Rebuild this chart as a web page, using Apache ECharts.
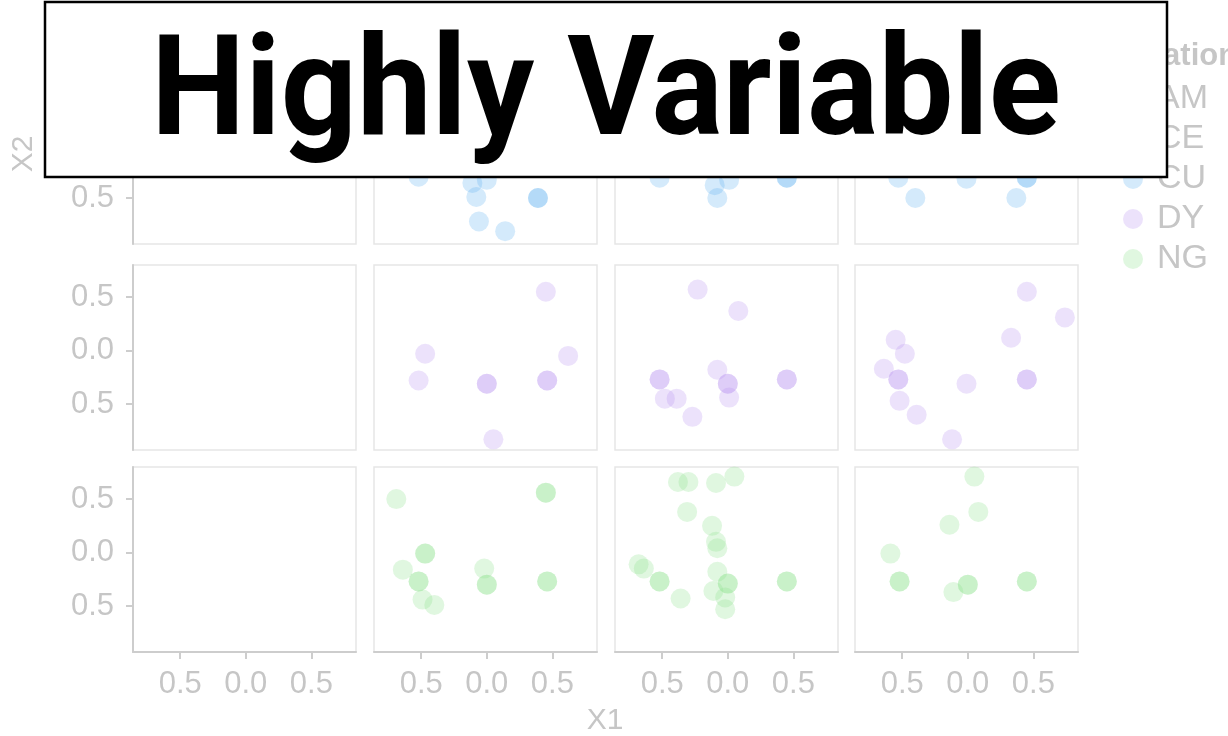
<!DOCTYPE html>
<html>
<head>
<meta charset="utf-8">
<script src="https://cdn.jsdelivr.net/npm/echarts@6/dist/echarts.min.js"></script>
<style>html,body{margin:0;padding:0;background:#fff}#chart{width:1228px;height:736px}</style>
</head>
<body>
<div id="chart"></div>
<script>
// ---- data ----
const POPULATIONS = ['AM', 'CE', 'CU', 'DY', 'NG'];
const ROW_POPS = ['CU', 'DY', 'NG'];
const TICK_VALUES = [-0.5, 0, 0.5];
const TICK_LABELS = ['0.5', '0.0', '0.5'];
const TITLE_TEXT = 'Highly Variable';
const LEGEND_TITLE = 'Population';
const X_TITLE = 'X1';
const Y_TITLE = 'X2';

// each facet: [x, y] pairs (column 1 is empty in every visible row)
const CU_C1 = [];
const CU_C2 = [[-0.52,-0.30],[-0.11,-0.36],[0.0,-0.33],[-0.08,-0.49],[0.39,-0.50],[0.39,-0.50],[-0.06,-0.72],[0.14,-0.81]];
const CU_C3 = [[-0.52,-0.31],[-0.10,-0.38],[0.01,-0.33],[-0.08,-0.50],[0.45,-0.31],[0.45,-0.31]];
const CU_C4 = [[-0.53,-0.31],[-0.40,-0.50],[-0.01,-0.32],[0.45,-0.31],[0.45,-0.31],[0.37,-0.50]];

const DY_C1 = [];
const DY_C2 = [[-0.47,-0.03],[-0.52,-0.28],[0.0,-0.31],[0.0,-0.31],[0.45,0.55],[0.62,-0.05],[0.46,-0.28],[0.46,-0.28],[0.05,-0.83]];
const DY_C3 = [[-0.23,0.57],[0.08,0.37],[-0.52,-0.27],[-0.52,-0.27],[-0.48,-0.45],[-0.39,-0.45],[-0.08,-0.18],[0.0,-0.31],[0.0,-0.31],[0.01,-0.44],[-0.27,-0.62],[0.45,-0.27],[0.45,-0.27]];
const DY_C4 = [[-0.55,0.10],[-0.48,-0.03],[-0.64,-0.17],[-0.53,-0.27],[-0.53,-0.27],[-0.52,-0.47],[-0.39,-0.60],[-0.12,-0.83],[-0.01,-0.31],[0.33,0.12],[0.45,0.55],[0.74,0.31],[0.45,-0.27],[0.45,-0.27]];

const NG_C1 = [];
const NG_C2 = [[-0.69,0.50],[-0.47,-0.01],[-0.47,-0.01],[-0.64,-0.16],[-0.52,-0.27],[-0.52,-0.27],[-0.49,-0.44],[-0.40,-0.49],[-0.02,-0.15],[0.0,-0.30],[0.0,-0.30],[0.45,0.56],[0.45,0.56],[0.46,-0.27],[0.46,-0.27]];
const NG_C3 = [[-0.38,0.66],[-0.30,0.66],[-0.09,0.65],[0.05,0.71],[-0.31,0.38],[-0.12,0.25],[-0.09,0.10],[-0.08,0.04],[-0.68,-0.11],[-0.64,-0.15],[-0.52,-0.27],[-0.52,-0.27],[-0.08,-0.18],[0.0,-0.29],[0.0,-0.29],[-0.11,-0.36],[-0.02,-0.42],[-0.36,-0.43],[-0.02,-0.53],[0.45,-0.27],[0.45,-0.27]];
const NG_C4 = [[0.05,0.71],[0.08,0.38],[-0.14,0.26],[-0.59,-0.01],[-0.52,-0.27],[-0.52,-0.27],[0.0,-0.30],[0.0,-0.30],[-0.11,-0.37],[0.45,-0.27],[0.45,-0.27]];

const FACETS = {
  CU: [CU_C1, CU_C2, CU_C3, CU_C4],
  DY: [DY_C1, DY_C2, DY_C3, DY_C4],
  NG: [NG_C1, NG_C2, NG_C3, NG_C4]
};

// ---- style / layout ----
const COLORS = { AM: '#f08a8a', CE: '#e6d25a', CU: '#5fb0f0', DY: '#b894f0', NG: '#8ee08e' };
const POINT_OPACITY = 0.27;
const COL_LEFT = [133, 374, 615, 855];
const ROW_TOP = [59, 265, 467];
const PANEL_W = 223, PANEL_H = 185;
const X_MIN = -0.86, X_MAX = 0.84, Y_MIN = -0.93, Y_MAX = 0.80;
const TXT = '#c6c6c6';
const AXIS_LINE = '#cdcdcd';
const FONT = 'Liberation Sans, Arial, sans-serif';

const grids = [], xAxes = [], yAxes = [], series = [];
ROW_POPS.forEach((pop, r) => {
  for (let c = 0; c < 4; c++) {
    const idx = grids.length;
    grids.push({ left: COL_LEFT[c], top: ROW_TOP[r], width: PANEL_W, height: PANEL_H,
      show: true, borderColor: '#e6e6e6', borderWidth: 1.5, backgroundColor: '#fff' });
    const bottomRow = r === ROW_POPS.length - 1;
    const firstCol = c === 0;
    const fmt = v => { const i = TICK_VALUES.findIndex(t => Math.abs(t - v) < 1e-9); return i >= 0 ? TICK_LABELS[i] : ''; };
    xAxes.push({ type: 'value', gridIndex: idx, min: X_MIN, max: X_MAX,
      splitLine: { show: false },
      axisLine: { show: bottomRow, onZero: false, lineStyle: { color: AXIS_LINE, width: 2 } },
      axisTick: { show: bottomRow, customValues: TICK_VALUES, length: 7, lineStyle: { color: AXIS_LINE, width: 2 } },
      axisLabel: { show: bottomRow, customValues: TICK_VALUES, formatter: fmt, margin: 17,
        color: TXT, fontSize: 31, fontFamily: FONT }
    });
    yAxes.push({ type: 'value', gridIndex: idx, min: Y_MIN, max: Y_MAX,
      splitLine: { show: false },
      axisLine: { show: firstCol, onZero: false, lineStyle: { color: AXIS_LINE, width: 2 } },
      axisTick: { show: firstCol, customValues: TICK_VALUES, length: 7, lineStyle: { color: AXIS_LINE, width: 2 } },
      axisLabel: { show: firstCol, customValues: TICK_VALUES, formatter: fmt, margin: 19,
        color: TXT, fontSize: 31, fontFamily: FONT }
    });
    series.push({ type: 'scatter', name: pop, xAxisIndex: idx, yAxisIndex: idx,
      data: FACETS[pop][c], symbolSize: 20,
      itemStyle: { color: COLORS[pop], opacity: POINT_OPACITY } });
  }
});
// legend-only entries for populations whose rows are outside the view
['AM', 'CE'].forEach(pop => series.push({ type: 'scatter', name: pop, xAxisIndex: 0, yAxisIndex: 0,
  data: [], symbolSize: 20, itemStyle: { color: COLORS[pop], opacity: POINT_OPACITY } }));

const chart = echarts.init(document.getElementById('chart'), null, { renderer: 'canvas' });
chart.setOption({
  animation: false,
  backgroundColor: '#fff',
  grid: grids, xAxis: xAxes, yAxis: yAxes, series: series,
  legend: {
    data: POPULATIONS, orient: 'vertical', left: 1118, top: 77,
    itemWidth: 20, itemHeight: 20, itemGap: 6, icon: 'circle',
    selectedMode: false,
    textStyle: { color: TXT, fontSize: 34, fontFamily: FONT, lineHeight: 20, padding: [0, 0, 0, 9] }
  },
  graphic: [
    { type: 'text', left: 1077, top: 41, style: { text: LEGEND_TITLE, fill: TXT, font: 'bold 31px ' + FONT } },
    { type: 'text', x: 605, y: 721, style: { text: X_TITLE, fill: TXT, font: '30px ' + FONT, align: 'center', verticalAlign: 'middle' } },
    { type: 'text', x: 24, y: 154, rotation: Math.PI / 2, style: { text: Y_TITLE, fill: TXT, font: '30px ' + FONT, align: 'center', verticalAlign: 'middle' } },
    { type: 'rect', z: 100, zlevel: 1, shape: { x: 45, y: 2, width: 1122, height: 175 }, style: { fill: '#fff', stroke: '#000', lineWidth: 2.5 } },
    { type: 'text', z: 101, zlevel: 1, x: 606, y: 99, scaleX: 0.96, style: { text: TITLE_TEXT, fill: '#000', font: 'bold 139px Roboto, sans-serif', align: 'center', verticalAlign: 'middle' } }
  ]
});
</script>
</body>
</html>
